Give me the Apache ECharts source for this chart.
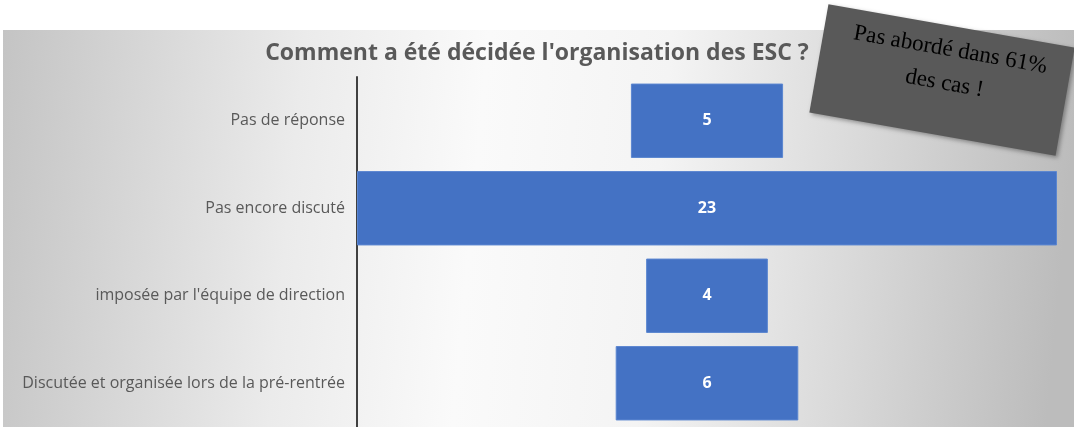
<!DOCTYPE html>
<html><head><meta charset="utf-8">
<script src="https://cdn.jsdelivr.net/npm/echarts@6/dist/echarts.min.js"></script>
<style>html,body{margin:0;padding:0;background:#fff}#c{width:1074px;height:427px}</style>
</head><body><div id="c"></div>
<script>
const titleText = "Comment a été décidée l'organisation des ESC ?";
const categories = ["Pas de réponse", "Pas encore discuté", "imposée par l'équipe de direction", "Discutée et organisée lors de la pré-rentrée"];
const values = [5, 23, 4, 6];
const calloutText = "Pas abordé dans 61%\ndes cas !";

const maxVal = Math.max(...values);
const spacer = values.map(v => (maxVal - v) / 2);

const chart = echarts.init(document.getElementById('c'), null, {renderer: 'canvas'});
chart.setOption({
  animation: false,
  backgroundColor: '#ffffff',
  graphic: [
    {
      type: 'rect', z: -10, silent: true,
      shape: {x: 3, y: 30, width: 1071, height: 397},
      style: {
        fill: {
          type: 'linear', x: 0, y: 0, x2: 1, y2: 0.25,
          colorStops: [
            {offset: 0, color: '#c4c4c4'},
            {offset: 0.28, color: '#ebebeb'},
            {offset: 0.45, color: '#fafafa'},
            {offset: 0.62, color: '#f4f4f4'},
            {offset: 0.8, color: '#dadada'},
            {offset: 1, color: '#bcbcbc'}
          ]
        }
      }
    },
    {
      type: 'group', x: 942, y: 80, rotation: -10 * Math.PI / 180, z: 100,
      children: [
        {type: 'rect', shape: {x: -125, y: -55, width: 250, height: 110},
         style: {fill: '#595959', shadowBlur: 4, shadowColor: 'rgba(0,0,0,0.35)', shadowOffsetX: 2, shadowOffsetY: 2}},
        {type: 'text', x: 3, y: -14,
         style: {text: calloutText, fill: '#000000', font: '23px "Liberation Serif", "DejaVu Serif", serif',
                 align: 'center', verticalAlign: 'middle', lineHeight: 34}}
      ]
    }
  ],
  title: {
    text: titleText, left: 'center', top: 37,
    textStyle: {fontFamily: 'Open Sans', fontSize: 23, fontWeight: 'bold', color: '#595959'}
  },
  grid: {left: 357, right: 17, top: 77, height: 354, containLabel: false},
  xAxis: {type: 'value', min: 0, max: maxVal, show: false},
  yAxis: {
    type: 'category', data: categories, inverse: true,
    axisLine: {show: true, lineStyle: {color: '#404040', width: 2}},
    axisTick: {show: false},
    axisLabel: {fontFamily: 'Open Sans', fontSize: 16, color: '#595959', margin: 12}
  },
  series: [
    {type: 'bar', stack: 's', data: spacer, itemStyle: {color: 'transparent'}, barCategoryGap: '15%', silent: true},
    {type: 'bar', stack: 's', data: values, barCategoryGap: '15%',
     itemStyle: {color: '#4472C4', borderColor: '#5b86d0', borderWidth: 1},
     label: {show: true, position: 'inside', color: '#ffffff', fontFamily: 'Open Sans', fontWeight: 'bold', fontSize: 16}}
  ]
});
</script></body></html>
